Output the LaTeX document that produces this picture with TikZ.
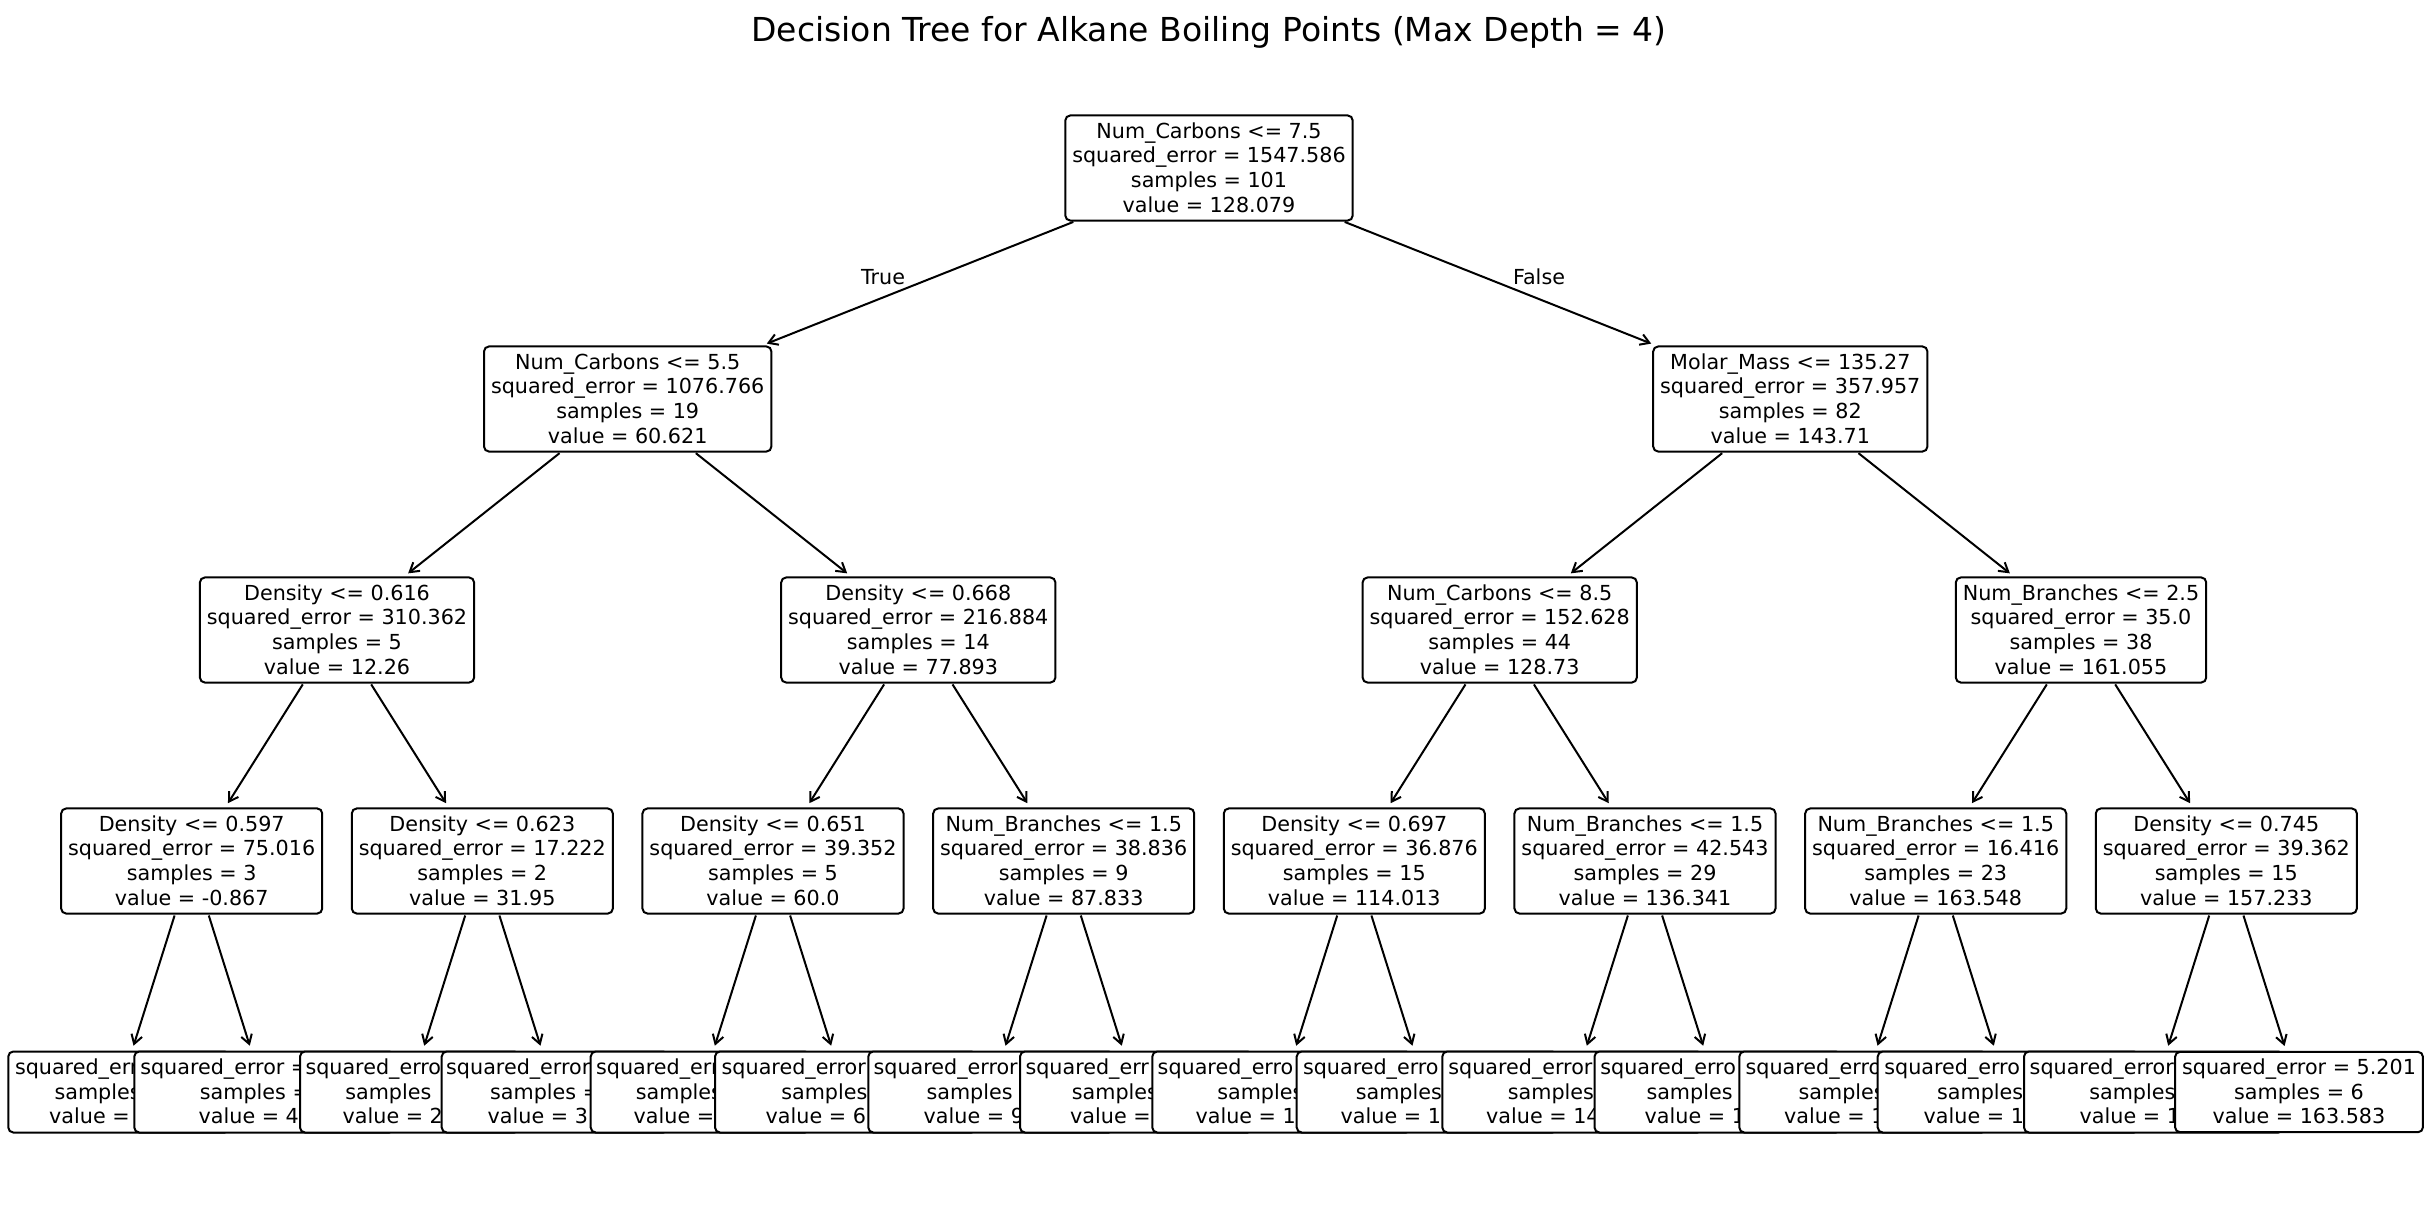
\documentclass[tikz,border=0pt]{standalone}
\usepackage{fontspec}
\setmainfont{DejaVu Sans}
\usetikzlibrary{arrows.meta}
\newcommand\nodefont{\fontsize{20.7pt}{24.7pt}\selectfont}
\newcommand\ls{\rule[-3.1pt]{0pt}{20.6pt}}
\newcommand\nd[4]{\ls #1\\\ls squared\_error = #2\\\ls samples = #3\\\ls value = #4}
% name, centre x, width, start x of the three lines, the three visible texts
\newcommand\leafnode[9]{%
  \node[leafbox, minimum width=#3pt] (#1) at (#2,1092) {};
  \node[lt] (#1a) at (#4,1074.3) {#7};
  \node[lt] (#1b) at (#5,1099.0) {#8};
  \node[lt] (#1c) at (#6,1123.7) {#9};
}
\begin{document}
\begin{tikzpicture}[x=1pt,y=-1pt,
  tn/.style={draw, rounded corners=5pt, fill=white, line width=2pt, align=center,
    inner xsep=7pt, inner ysep=5.2pt, font=\nodefont},
  leafbox/.style={draw, rounded corners=5pt, fill=white, line width=2pt,
    minimum height=81pt, inner sep=0pt},
  lt/.style={anchor=base west, inner sep=0pt, font=\nodefont},
  lbl/.style={anchor=base, inner sep=0pt, font=\nodefont},
  arr/.style={-{Straight Barb[length=9pt,width=11pt,line width=2pt]}, line width=2pt, shorten >=5pt, shorten <=1pt}]
\useasboundingbox (0,0) rectangle (2432,1223);
\fill[white] (0,0) rectangle (2432,1223);

\node[anchor=base, inner sep=0pt, font=\fontsize{33pt}{40pt}\selectfont] (title) at (1209,42)
  {Decision Tree for Alkane Boiling Points (Max Depth = 4)};

\node[tn] (r) at (1209,168) {\nd{Num\_Carbons <= 7.5}{1547.586}{101}{128.079}};
\node[tn] (a1) at (627.7,399) {\nd{Num\_Carbons <= 5.5}{1076.766}{19}{60.621}};
\node[tn] (a2) at (1790.3,399) {\nd{Molar\_Mass <= 135.27}{357.957}{82}{143.71}};
\node[tn] (b1) at (337.0,630) {\nd{Density <= 0.616}{310.362}{5}{12.26}};
\node[tn] (b2) at (918.3,630) {\nd{Density <= 0.668}{216.884}{14}{77.893}};
\node[tn] (b3) at (1499.7,630) {\nd{Num\_Carbons <= 8.5}{152.628}{44}{128.73}};
\node[tn] (b4) at (2081.0,630) {\nd{Num\_Branches <= 2.5}{35.0}{38}{161.055}};
\node[tn] (c1) at (191.7,861) {\nd{Density <= 0.597}{75.016}{3}{-0.867}};
\node[tn] (c2) at (482.3,861) {\nd{Density <= 0.623}{17.222}{2}{31.95}};
\node[tn] (c3) at (773.0,861) {\nd{Density <= 0.651}{39.352}{5}{60.0}};
\node[tn] (c4) at (1063.7,861) {\nd{Num\_Branches <= 1.5}{38.836}{9}{87.833}};
\node[tn] (c5) at (1354.3,861) {\nd{Density <= 0.697}{36.876}{15}{114.013}};
\node[tn] (c6) at (1645.0,861) {\nd{Num\_Branches <= 1.5}{42.543}{29}{136.341}};
\node[tn] (c7) at (1935.7,861) {\nd{Num\_Branches <= 1.5}{16.416}{23}{163.548}};
\node[tn] (c8) at (2226.3,861) {\nd{Density <= 0.745}{39.362}{15}{157.233}};

\node[lbl] (ltrue) at (883,284) {True};
\node[lbl] (lfalse) at (1539,284) {False};

\leafnode{f1}{119.0}{221.4}{14.8}{54.4}{49.0}{squared\_err}{samples}{value =}
\leafnode{f2}{264.3}{260.0}{140.1}{199.7}{198.5}{squared\_error =}{samples =}{value = 4}
\leafnode{f3}{409.7}{219.4}{305.3}{345.1}{342.5}{squared\_erro}{samples}{value = 2}
\leafnode{f4}{555.0}{226.6}{446.0}{490.0}{487.5}{squared\_error}{samples =}{value = 3}
\leafnode{f5}{700.3}{219.2}{595.9}{635.7}{633.5}{squared\_err}{samples}{value =}
\leafnode{f6}{845.7}{261.4}{721.5}{781.1}{765.5}{squared\_error}{samples}{value = 6}
\leafnode{f7}{991.0}{245.4}{873.4}{926.4}{923.5}{squared\_error}{samples}{value = 9}
\leafnode{f8}{1136.3}{232.6}{1025.3}{1071.7}{1070.0}{squared\_err}{samples}{value =}
\leafnode{f9}{1281.7}{258.8}{1157.5}{1217.1}{1195.4}{squared\_erro}{samples}{value = 1}
\leafnode{f10}{1427.0}{260.6}{1302.8}{1355.6}{1340.5}{squared\_erro}{samples}{value = 1}
\leafnode{f11}{1572.3}{260.0}{1448.1}{1507.7}{1486.0}{squared\_error}{samples}{value = 14}
\leafnode{f12}{1717.7}{246.4}{1600.1}{1646.3}{1644.5}{squared\_erro}{samples}{value = 1}
\leafnode{f13}{1863.0}{247.4}{1745.4}{1798.4}{1784.0}{squared\_erro}{samples}{value = 1}
\leafnode{f14}{2008.3}{261.2}{1884.1}{1936.9}{1923.5}{squared\_erro}{samples}{value = 1}
\leafnode{f15}{2153.7}{259.4}{2029.5}{2089.1}{2079.5}{squared\_error}{samples}{value = 1}
\node[tn] (f16) at (2299.0,1092) {\ls squared\_error = 5.201\\\ls samples = 6\\\ls value = 163.583};

\foreach \p/\c in {r/a1, r/a2, a1/b1, a1/b2, a2/b3, a2/b4,
  b1/c1, b1/c2, b2/c3, b2/c4, b3/c5, b3/c6, b4/c7, b4/c8,
  c1/f1, c1/f2, c2/f3, c2/f4, c3/f5, c3/f6, c4/f7, c4/f8,
  c5/f9, c5/f10, c6/f11, c6/f12, c7/f13, c7/f14, c8/f15, c8/f16}
  \draw[arr] (\p) -- (\c);
\end{tikzpicture}
\end{document}
